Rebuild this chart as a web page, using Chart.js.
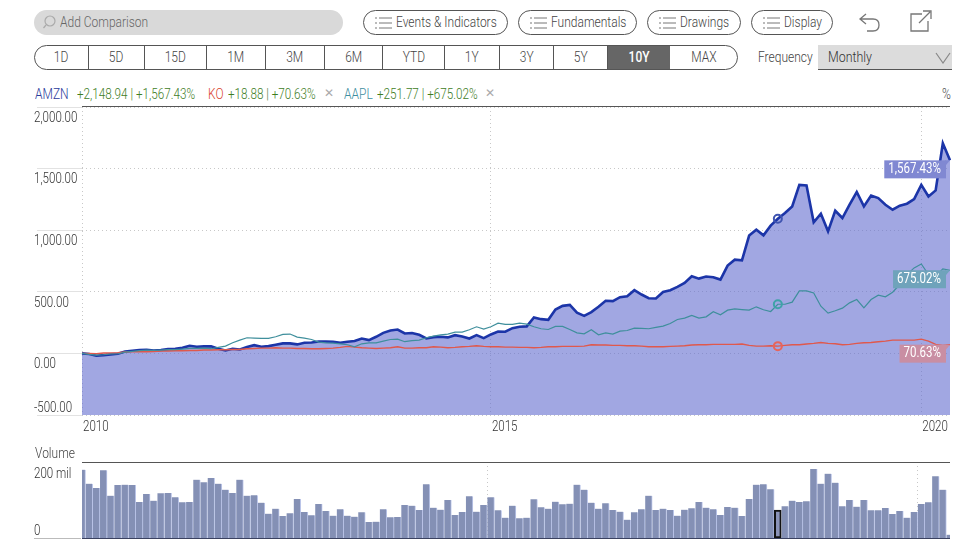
<!DOCTYPE html>
<html>
<head>
<meta charset="utf-8">
<script src="https://cdn.jsdelivr.net/npm/chart.js@4"></script>
<style>
html, body { margin: 0; padding: 0; background: #fff; }
body { width: 966px; height: 544px; position: relative; overflow: hidden; font-family: Roboto, sans-serif; font-weight: 300; font-size: 15px; color: #444; }
.abs { position: absolute; white-space: nowrap; }
.t { transform: scaleX(0.8); transform-origin: left center; }
.n { transform: scaleX(0.78); transform-origin: left center; }
.pill { position: absolute; top: 10px; height: 23px; border: 1px solid #555; border-radius: 13px; line-height: 23px; box-sizing: content-box; white-space: nowrap; }
.pill svg { position: absolute; left: 11px; top: 5px; }
.pill span { position: absolute; left: 32px; transform: scaleX(0.8); transform-origin: left center; }
.seg { position: absolute; top: 45px; height: 24px; line-height: 23px; text-align: center; border-right: 1px solid #555; box-sizing: border-box; }
.seg span { display: inline-block; transform: scaleX(0.8); }
canvas { position: absolute; left: 0; }
</style>
</head>
<body>
<div class="abs" style="left:34px;top:10px;width:309px;height:25px;border-radius:13px;background:#d9d9d9"></div>
<svg class="abs" style="left:43px;top:14px" width="16" height="16"><circle cx="7" cy="7" r="5" fill="none" stroke="#aaa" stroke-width="1.2"/><line x1="3" y1="11" x2="0.5" y2="14" stroke="#aaa" stroke-width="1.2"/></svg>
<div class="abs t" style="left:60px;top:10px;line-height:25px;color:#666">Add Comparison</div>

<div id="pills"></div>

<svg class="abs" style="left:858px;top:8px" width="24" height="26"><path d="M8 6 L2 11 L8 16 M2 11 H15 Q21 11 21 17 Q21 23 15 23 H9" fill="none" stroke="#777" stroke-width="1.3"/></svg>
<svg class="abs" style="left:908px;top:8px" width="26" height="26"><path d="M14 6 H3 V23 H20 V13 M11 15 L22 4 M15 3 H23 V11" fill="none" stroke="#777" stroke-width="1.3"/></svg>

<div class="abs" style="left:34px;top:45px;width:704px;height:25px;border:1px solid #555;border-radius:13px;box-sizing:border-box;overflow:hidden" id="range"></div>

<div class="abs t" style="left:758px;top:45px;line-height:25px">Frequency</div>
<div class="abs" style="left:818px;top:45px;width:134px;height:24px;background:#dcdcdc;border-bottom:1px solid #555;line-height:24px;font-size:15.5px;color:#333"><span class="t" style="position:absolute;left:10px">Monthly</span>
<svg style="position:absolute;left:117px;top:7px" width="16" height="12"><path d="M1 1 L8 11 L15 1" fill="none" stroke="#888" stroke-width="1.2"/></svg></div>

<div class="abs t" style="left:35px;top:85px;color:#2b3a9b">AMZN</div>
<div class="abs n" style="left:77px;top:85px;color:#3e7d1e">+2,148.94 | +1,567.43%</div>
<div class="abs t" style="left:208px;top:85px;color:#d9432f">KO</div>
<div class="abs n" style="left:228px;top:85px;color:#3e7d1e">+18.88 | +70.63%</div>
<div class="abs" style="left:324px;top:85px;color:#aaa;font-size:12px;line-height:17px">&#10005;</div>
<div class="abs t" style="left:344px;top:85px;color:#3d8ea0">AAPL</div>
<div class="abs n" style="left:377px;top:85px;color:#3e7d1e">+251.77 | +675.02%</div>
<div class="abs" style="left:485px;top:85px;color:#aaa;font-size:12px;line-height:17px">&#10005;</div>
<div class="abs t" style="left:942px;top:85px">%</div>

<canvas id="priceChart" style="top:100px;width:966px;height:340px"></canvas>
<canvas id="volumeChart" style="top:440px;width:966px;height:104px"></canvas>

<div class="abs" style="left:82px;top:106px;width:868px;height:1px;background:#555"></div>
<div class="abs t" style="left:35px;top:444px">Volume</div>
<div class="abs" style="left:82px;top:462px;width:868px;height:1px;background:#555"></div>
<div class="abs" style="left:82px;top:538px;width:868px;height:1px;background:#3a4160"></div>
<div class="abs" style="left:34px;top:538px;width:47px;height:1px;background:#bbb"></div>

<script>
// months shown, first point is Apr 2010
var firstYear = 2010;
var firstMonth = 3;
var pointCount = 122;
var categories = [];
for (var m = 0; m < pointCount; m++) {
	var total = firstMonth + m;
	categories.push((firstYear + Math.floor(total / 12)) + "-" + (total % 12 + 1));
}
var yearTicks = { 0: "2010", 57: "2015", 117: "2020" };
var priceTicks = { "2000": "2,000.00", "1500": "1,500.00", "1000": "1,000.00", "500": "500.00", "0": "0.00", "-500": "-500.00" };
var volumeTicks = { "200": "200 mil", "0": "0" };
var hoverIndex = 97;

var amzn = [0,-5,-19,-14,-8,-3,16,22,27,30,24,27,35,38,46,62,54,57,57,38,24,38,32,51,67,54,59,70,81,81,
	73,86,89,97,97,95,86,95,100,121,108,135,167,186,194,162,165,151,121,132,135,130,148,138,121,148,124,154,178,176,
	205,216,219,292,278,273,356,386,394,330,305,335,378,427,424,456,464,513,478,448,446,499,513,540,572,626,607,624,618,599,
	713,761,756,956,1004,958,1037,1093,1139,1193,1368,1363,1064,1134,991,1158,1099,1207,1310,1193,1282,1261,1207,1166,1199,1215,1253,1368,1274,1323,
	1705,1567];
var ko = [0,0,-3,3,3,5,11,14,14,14,16,19,19,22,22,24,24,27,27,30,30,32,32,38,40,43,43,46,43,43,
	40,40,38,38,40,43,49,57,51,46,43,40,43,46,54,43,43,46,46,54,51,46,49,54,57,62,57,54,54,51,
	51,49,49,46,49,54,54,57,57,57,59,70,68,68,65,65,62,62,59,54,54,54,57,59,62,68,70,70,73,73,
	73,73,76,65,59,59,62,59,65,70,70,76,81,89,81,78,70,73,81,86,89,95,100,108,108,108,108,116,100,73,
	65,71];
var aapl = [0,-8,-14,-11,-5,-3,11,16,22,27,24,27,30,30,35,40,40,43,38,49,59,86,108,127,124,122,122,135,154,157,
	132,124,113,92,86,84,78,70,54,78,86,86,100,113,116,95,103,108,127,140,151,157,173,173,192,216,197,216,246,235,
	235,246,238,216,200,194,219,219,194,167,159,192,151,167,157,181,186,205,203,200,211,221,243,275,286,308,286,297,338,313,
	351,362,356,351,378,354,340,399,399,416,508,508,491,383,327,346,367,410,437,370,437,472,459,497,559,640,694,726,640,626,
	686,675];
var volume = [205,163,150,203,127,159,160,159,108,132,112,134,135,122,107,108,175,167,180,163,145,135,175,127,128,106,73,88,66,74,
	117,78,68,102,81,67,86,67,64,77,48,49,86,62,63,99,97,84,161,91,85,114,69,78,125,79,99,122,83,61,
	97,59,61,116,92,88,109,101,103,160,145,106,88,104,84,79,55,77,86,127,84,88,84,67,85,89,108,91,86,69,
	93,91,66,117,160,161,146,84,95,112,108,110,207,163,193,166,95,114,94,114,83,83,90,72,81,61,78,102,107,185,
	145,10];
var endLabels = ["1,567.43%", "675.02%", "70.63%"];

// toolbar pills and range buttons
var pillNames = ["Events & Indicators", "Fundamentals", "Drawings", "Display"];
var pillLeft = [363, 518, 647, 751];
var pillRight = [508, 637, 741, 833];
var pillHtml = "";
for (var i = 0; i < pillNames.length; i++) {
	pillHtml += '<div class="pill" style="left:' + pillLeft[i] + 'px;width:' + (pillRight[i] - pillLeft[i] - 2) + 'px">' +
		'<svg width="18" height="14"><path d="M0 2H2M4 2H17M0 7H2M4 7H17M0 12H2M4 12H17" stroke="#777" stroke-width="1"/></svg>' +
		'<span>' + pillNames[i].replace("&", "&amp;") + '</span></div>';
}
document.getElementById("pills").innerHTML = pillHtml;

var rangeNames = ["1D", "5D", "15D", "1M", "3M", "6M", "YTD", "1Y", "3Y", "5Y", "10Y", "MAX"];
var rangeEdges = [0, 55, 111, 173, 232, 291, 349, 411, 466, 520, 574, 636, 704];
var rangeHtml = "";
for (var r = 0; r < rangeNames.length; r++) {
	var on = rangeNames[r] == "10Y";
	var last = r == rangeNames.length - 1;
	rangeHtml += '<div class="seg" style="left:' + (rangeEdges[r] - 1) + 'px;top:0;width:' + (rangeEdges[r + 1] - rangeEdges[r]) + 'px;' +
		(on ? 'background:#666;color:#fff;font-weight:500;' : '') + (last || on ? 'border-right:none;' : '') + '"><span>' + rangeNames[r] + '</span></div>';
}
document.getElementById("range").innerHTML = rangeHtml;

var tickFont = { family: 'Roboto, sans-serif', size: 15, weight: 300 };
var tickColor = "#333";

function hoverRadius(ctx) {
	return ctx.dataIndex == hoverIndex ? 4 : 0;
}
function yearGrid(ctx) {
	return yearTicks[ctx.index] ? "#c8c8c8" : "rgba(0,0,0,0)";
}
// the page font is condensed, no installed font is, so squeeze canvas text the same as the html
function condense(canvas) {
	var ctx = canvas.getContext("2d");
	var rawFillText = ctx.fillText;
	ctx.fillText = function (text, x, y) {
		this.save();
		this.translate(x, y);
		this.scale(0.77, 1);
		rawFillText.call(this, text, 0, 0);
		this.restore();
	};
}
function noYPadding(scale) {
	scale.width = 48;
	scale.paddingTop = 0;
	scale.paddingBottom = 0;
}

// value badges at the right end of each line
var endLabelPlugin = {
	id: "endLabels",
	afterDatasetsDraw: function (chart) {
		var c = chart.ctx;
		var colors = ["#8088d2", "#6fa3bb", "#c98ea3"];
		var series = [amzn, aapl, ko];
		c.save();
		c.font = '400 15px Roboto, sans-serif';
		c.textBaseline = "middle";
		c.textAlign = "right";
		for (var i = 0; i < series.length; i++) {
			var y = chart.scales.y.getPixelForValue(series[i][series[i].length - 1]);
			var w = c.measureText(endLabels[i]).width * 0.77 + 9;
			c.fillStyle = colors[i];
			c.fillRect(946 - w, y, w, 18);
			c.beginPath();
			c.moveTo(945, y);
			c.lineTo(950, y);
			c.lineTo(945, y + 6);
			c.fill();
			c.fillStyle = "#fff";
			c.fillText(endLabels[i], 941, y + 9);
		}
		c.restore();
	}
};

condense(document.getElementById("priceChart"));
condense(document.getElementById("volumeChart"));

new Chart(document.getElementById("priceChart"), {
	type: "line",
	data: {
		labels: categories,
		datasets: [
			{ label: "KO", data: ko, borderColor: "#e0584c", borderWidth: 1.4, order: 2, pointRadius: hoverRadius, pointBackgroundColor: "rgba(0,0,0,0)", pointBorderColor: "#e8645a", pointBorderWidth: 2, tension: 0 },
			{ label: "AAPL", data: aapl, borderColor: "#3f8f9c", borderWidth: 1.2, order: 1, pointRadius: hoverRadius, pointBackgroundColor: "rgba(0,0,0,0)", pointBorderColor: "#3fa3a8", pointBorderWidth: 2, tension: 0 },
			{ label: "AMZN", data: amzn, borderColor: "#1c35a8", borderWidth: 2.6, order: 3, fill: "start", backgroundColor: "rgba(98,109,206,0.6)", pointRadius: hoverRadius, pointBackgroundColor: "rgba(0,0,0,0)", pointBorderColor: "#3f54b0", pointBorderWidth: 2, tension: 0 }
		]
	},
	options: {
		responsive: false,
		animation: false,
		devicePixelRatio: 1,
		layout: { padding: { left: 34, right: 16, top: 7, bottom: 0 } },
		plugins: { legend: { display: false }, tooltip: { enabled: false } },
		scales: {
			x: {
				offset: false,
				afterFit: function (scale) { scale.height = 25; scale.paddingLeft = 0; scale.paddingRight = 0; },
				grid: { color: yearGrid, drawTicks: false },
				border: { display: false, dash: [1, 3] },
				ticks: {
					autoSkip: false, maxRotation: 0, align: "start", padding: 3, labelOffset: 1, font: tickFont, color: tickColor,
					callback: function (v, i) { return yearTicks[i] || ""; }
				}
			},
			y: {
				min: -500,
				max: 2000,
				afterFit: noYPadding,
				grid: { color: "#c8c8c8", tickColor: "#e2e2e2", tickLength: 45, tickBorderDash: [] },
				border: { display: false, dash: [1, 3] },
				ticks: {
					stepSize: 500, autoSkip: false, crossAlign: "far", padding: 0, labelOffset: 11, font: tickFont, color: tickColor,
					callback: function (v) {
						// bottom label sits above its line, the rest below
						return v == -500 ? [priceTicks[v], "", ""] : priceTicks[v];
					}
				}
			}
		}
	},
	plugins: [endLabelPlugin]
});

new Chart(document.getElementById("volumeChart"), {
	type: "bar",
	data: {
		labels: categories,
		datasets: [{
			label: "Volume",
			data: volume,
			barThickness: 7,
			backgroundColor: function (ctx) { return ctx.dataIndex == hoverIndex ? "#8a93b8" : "#8490b5"; },
			borderColor: function (ctx) { return ctx.dataIndex == hoverIndex ? "#111" : "#bcc6ea"; },
			borderWidth: function (ctx) { return ctx.dataIndex == hoverIndex ? 2 : { right: 1 }; },
			borderSkipped: false
		}]
	},
	options: {
		responsive: false,
		animation: false,
		devicePixelRatio: 1,
		layout: { padding: { left: 34, right: 16, top: 22, bottom: 6 } },
		plugins: { legend: { display: false }, tooltip: { enabled: false } },
		scales: {
			x: {
				offset: false,
				afterFit: function (scale) { scale.height = 0; scale.paddingLeft = 0; scale.paddingRight = 0; },
				grid: { color: yearGrid, drawTicks: false },
				border: { display: false, dash: [1, 3] },
				ticks: { display: false, autoSkip: false }
			},
			y: {
				min: 0,
				max: 228,
				afterFit: noYPadding,
				afterBuildTicks: function (scale) { scale.ticks = [{ value: 0 }, { value: 200 }]; },
				grid: { display: false },
				border: { display: false },
				ticks: {
					autoSkip: false, crossAlign: "far", padding: 0, labelOffset: 2.5, font: tickFont, color: tickColor,
					callback: function (v) {
						return v == 0 ? [volumeTicks[v], ""] : volumeTicks[v];
					}
				}
			}
		}
	}
});
</script>
</body>
</html>
